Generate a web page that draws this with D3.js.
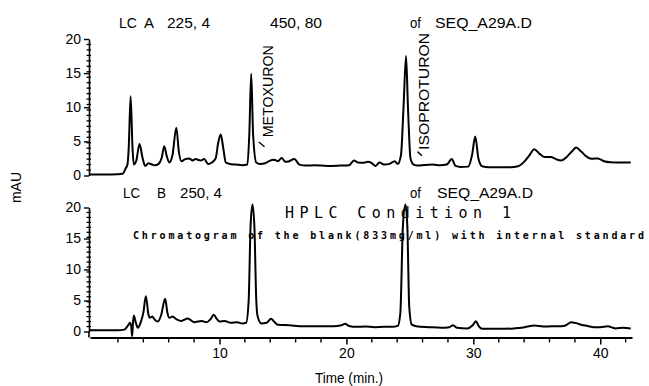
<!DOCTYPE html>
<html>
<head>
<meta charset="utf-8">
<script src="https://cdn.jsdelivr.net/npm/d3@7"></script>
<style>
  body { margin: 0; background: #fff; }
  text { fill: #000; }
</style>
</head>
<body>
<svg id="chart" width="649" height="386"></svg>
<script>
// Trace A (LC A 225,4) - retention time (min) / absorbance (mAU)
const timeA = [-0.2, 1.0, 2.0, 2.4, 2.6, 2.75, 2.85, 3.0, 3.15, 3.25, 3.45, 3.7, 3.95, 4.15, 4.4, 4.7, 4.9, 5.2, 5.45, 5.65,
  5.85, 6.05, 6.3, 6.6, 6.8, 7.0, 7.3, 7.6, 7.9, 8.1, 8.5, 8.8, 9.1, 9.4, 9.7, 9.9, 10.1, 10.3, 10.5, 10.8,
  11.3, 11.8, 12.2, 12.35, 12.5, 12.65, 12.9, 13.2, 13.6, 13.9, 14.3, 14.6, 14.9, 15.2, 15.5, 15.9, 16.3, 16.8, 17.5, 18.5,
  19.5, 20.2, 20.6, 20.9, 21.3, 21.7, 22.0, 22.3, 22.6, 23.0, 23.4, 23.8, 24.05, 24.3, 24.5, 24.7, 24.85, 25.05, 25.3, 25.6,
  26.2, 26.8, 27.4, 27.9, 28.3, 28.6, 29.0, 29.6, 29.9, 30.15, 30.4, 30.7, 31.2, 32.0, 32.6, 33.2, 33.6, 34.0, 34.4, 34.8,
  35.2, 35.6, 36.1, 36.5, 36.9, 37.4, 37.8, 38.1, 38.5, 38.9, 39.3, 39.8, 40.3, 40.8, 41.5, 42.4];
const mauA = [0.15, 0.15, 0.2, 0.3, 1.0, 1.6, 4.0, 11.6, 4.0, 1.6, 2.2, 4.6, 2.5, 1.4, 1.8, 1.6, 1.5, 1.7, 2.6, 4.3,
  2.8, 1.9, 3.0, 7.0, 3.5, 2.1, 2.4, 2.5, 2.2, 2.4, 2.2, 2.4, 1.7, 1.9, 2.5, 4.8, 6.0, 4.0, 1.9, 1.7,
  1.6, 1.5, 1.6, 6.0, 14.9, 6.0, 1.9, 1.7, 1.8, 2.1, 2.3, 2.1, 2.55, 2.0, 2.1, 2.4, 1.6, 1.45, 1.5, 1.4,
  1.45, 1.5, 2.2, 1.9, 1.85, 2.0, 1.8, 1.4, 1.9, 1.6, 1.7, 2.1, 1.7, 3.0, 10.0, 17.5, 10.0, 2.5, 1.6, 1.45,
  1.55, 1.6, 1.5, 1.6, 2.4, 1.4, 1.25, 1.3, 3.0, 5.7, 2.5, 1.35, 1.2, 1.2, 1.2, 1.25, 1.4, 2.0, 2.9, 3.85,
  3.2, 2.7, 2.7, 2.4, 2.2, 2.8, 3.6, 4.1, 3.5, 2.8, 2.45, 2.5, 2.1, 1.95, 1.9, 1.9];

// Trace B (LC B 250,4)
const timeB = [-0.2, 1.0, 2.0, 2.5, 2.8, 2.95, 3.05, 3.12, 3.18, 3.25, 3.4, 3.57, 3.8, 4.0, 4.2, 4.4, 4.5, 4.7, 4.9, 5.15,
  5.4, 5.72, 5.9, 6.06, 6.3, 6.6, 7.0, 7.5, 8.0, 8.6, 9.0, 9.3, 9.55, 9.8, 10.0, 10.4, 10.9, 11.4, 11.8, 12.1,
  12.3, 12.45, 12.6, 12.75, 12.9, 13.0, 13.3, 13.7, 14.07, 14.3, 14.6, 15.5, 16.6, 18.0, 19.0, 19.6, 19.9, 20.2, 20.8, 21.5,
  22.2, 23.0, 23.6, 24.05, 24.25, 24.45, 24.65, 24.8, 24.95, 25.15, 25.5, 26.5, 27.5, 28.1, 28.4, 28.7, 29.5, 29.95, 30.2, 30.45,
  30.7, 31.5, 32.4, 33.2, 33.8, 34.4, 34.8, 35.5, 36.2, 36.9, 37.3, 37.7, 38.1, 38.5, 39.0, 39.5, 40.0, 40.6, 41.0, 41.2,
  41.8, 42.4];
const mauB = [0.2, 0.2, 0.2, 0.3, 1.0, 1.4, 0.8, -0.75, 1.2, 2.6, 1.5, 0.6, 1.5, 3.0, 5.7, 2.8, 2.2, 2.4, 1.9, 1.6,
  2.6, 5.3, 3.0, 2.2, 2.4, 2.0, 1.7, 2.1, 1.5, 1.7, 1.5, 2.0, 2.7, 2.0, 1.6, 1.7, 1.4, 1.5, 1.3, 1.4,
  5.0, 17.0, 20.5, 17.0, 5.0, 2.5, 1.3, 1.4, 2.05, 1.6, 1.1, 1.0, 0.85, 0.85, 0.85, 1.0, 1.25, 0.9, 0.75, 0.8,
  0.7, 0.75, 0.75, 0.9, 3.0, 17.0, 20.5, 17.0, 4.0, 1.1, 0.85, 0.7, 0.6, 0.7, 1.0, 0.6, 0.5, 1.0, 1.65, 0.8,
  0.45, 0.45, 0.45, 0.5, 0.6, 0.85, 0.95, 0.8, 0.85, 0.85, 1.0, 1.5, 1.35, 1.1, 0.9, 0.7, 0.7, 0.85, 0.6, 0.5,
  0.6, 0.5];

const yTicks = [0, 5, 10, 15, 20];
const xTicks = [10, 20, 30, 40];
const peakNames = ["METOXURON", "ISOPROTURON"];
const peakTimes = [12.5, 24.7];

const svg = d3.select("#chart");
const font = "'Liberation Sans', Arial, sans-serif";

const x = d3.scaleLinear().domain([-0.2, 42.5]).range([90, 632]);
const yA = d3.scaleLinear().domain([0, 20]).range([175.5, 39]);
const yB = d3.scaleLinear().domain([0, 20]).range([331.5, 207.5]);
const axisY = 337.5;
const axisX = 89;

// Y axes (major + minor ticks)
[yA, yB].forEach(y => {
    const g = svg.append("g")
        .attr("transform", `translate(${axisX},0)`)
        .call(d3.axisLeft(y).tickValues(yTicks).tickSize(5).tickPadding(3).tickSizeOuter(0));
    g.select(".domain").attr("stroke", "#000").attr("stroke-width", 1.6);
    g.selectAll(".tick line").attr("stroke-width", 1.4);
    g.selectAll("text").attr("font-family", font).attr("font-size", 14);

    svg.append("g").attr("class", "minor")
        .selectAll("line")
        .data(d3.range(0.8, 20, 0.8))
        .join("line")
        .attr("x1", axisX - 2.5).attr("x2", axisX + 2)
        .attr("y1", d => y(d)).attr("y2", d => y(d))
        .attr("stroke", "#000").attr("stroke-width", 1.3);
});
// join bottom y axis to the time axis
svg.append("line")
    .attr("x1", axisX).attr("x2", axisX)
    .attr("y1", yB(0)).attr("y2", axisY)
    .attr("stroke", "#000").attr("stroke-width", 1.6);

// X axis
const gx = svg.append("g")
    .attr("transform", `translate(0,${axisY})`)
    .call(d3.axisBottom(x).tickValues(xTicks).tickSize(7).tickPadding(3.5).tickSizeOuter(0));
gx.select(".domain").attr("stroke-width", 2);
gx.selectAll(".tick line").attr("stroke-width", 1.5);
gx.selectAll("text").attr("font-family", font).attr("font-size", 14);
svg.append("g").attr("class", "minor")
    .selectAll("line")
    .data(d3.range(2, 43, 2).filter(d => d % 10))
    .join("line")
    .attr("x1", d => x(d)).attr("x2", d => x(d))
    .attr("y1", axisY).attr("y2", axisY + 5)
    .attr("stroke", "#000").attr("stroke-width", 1.4);

// Traces
const line = y => d3.line()
    .x(d => x(d[0]))
    .y(d => y(d[1]))
    .curve(d3.curveMonotoneX);

svg.append("path")
    .datum(d3.zip(timeA, mauA))
    .attr("fill", "none").attr("stroke", "#000")
    .attr("stroke-width", 2).attr("stroke-linejoin", "round")
    .attr("d", line(yA));
svg.append("path")
    .datum(d3.zip(timeB, mauB))
    .attr("fill", "none").attr("stroke", "#000")
    .attr("stroke-width", 2).attr("stroke-linejoin", "round")
    .attr("d", line(yB));

// Header texts
const header = [
    ["LC", 119, 28, 18], ["A", 144, 28, 10], ["225, 4", 167, 28, 43], ["450, 80", 270, 28, 52],
    ["of", 410, 28, 11], ["SEQ_A29A.D", 435, 28, 97],
    ["LC", 123, 197.5, 17], ["B", 157, 197.5, 9], ["250, 4", 180, 197.5, 42],
    ["of", 410, 197.5, 11], ["SEQ_A29A.D", 437, 197.5, 96],
    ["Time (min.)", 315, 383, 68]
];
header.forEach(([t, tx, ty, len]) => {
    svg.append("text")
        .attr("x", tx).attr("y", ty)
        .attr("font-family", font).attr("font-size", 14)
        .attr("textLength", len).attr("lengthAdjust", "spacingAndGlyphs")
        .text(t);
});

svg.append("text")
    .attr("transform", "translate(21,203) rotate(-90)")
    .attr("font-family", font).attr("font-size", 14)
    .attr("textLength", 31).attr("lengthAdjust", "spacingAndGlyphs")
    .text("mAU");

// Peak labels
const labelOffsets = [{ dx: 22, v: 5.6, len: 92, t0: [0.6, 4.9], t1: [1.05, 4.2] },
                      { dx: 23, v: 3.75, len: 117, t0: [0.9, 3.5], t1: [1.25, 2.9] }];
peakNames.forEach((name, i) => {
    const o = labelOffsets[i];
    svg.append("text")
        .attr("transform", `translate(${x(peakTimes[i]) + o.dx},${yA(o.v)}) rotate(-90)`)
        .attr("font-family", font).attr("font-size", 14)
        .attr("textLength", o.len).attr("lengthAdjust", "spacingAndGlyphs")
        .text(name);
    svg.append("line")
        .attr("x1", x(peakTimes[i] + o.t0[0])).attr("y1", yA(o.t0[1]))
        .attr("x2", x(peakTimes[i] + o.t1[0])).attr("y2", yA(o.t1[1]))
        .attr("stroke", "#000").attr("stroke-width", 1.4);
});

// Title overlay
svg.append("text")
    .attr("x", 285).attr("y", 218)
    .attr("font-family", "'DejaVu Sans Mono', monospace").attr("font-size", 15)
    .attr("textLength", 226).attr("lengthAdjust", "spacing")
    .text("HPLC Condition 1");
svg.append("text")
    .attr("x", 133).attr("y", 238.5)
    .attr("font-family", "'DejaVu Sans Mono', monospace").attr("font-size", 10)
    .attr("font-weight", "bold")
    .attr("textLength", 511).attr("lengthAdjust", "spacing")
    .text("Chromatogram of the blank(833mg/ml) with internal standard");
</script>
</body>
</html>
